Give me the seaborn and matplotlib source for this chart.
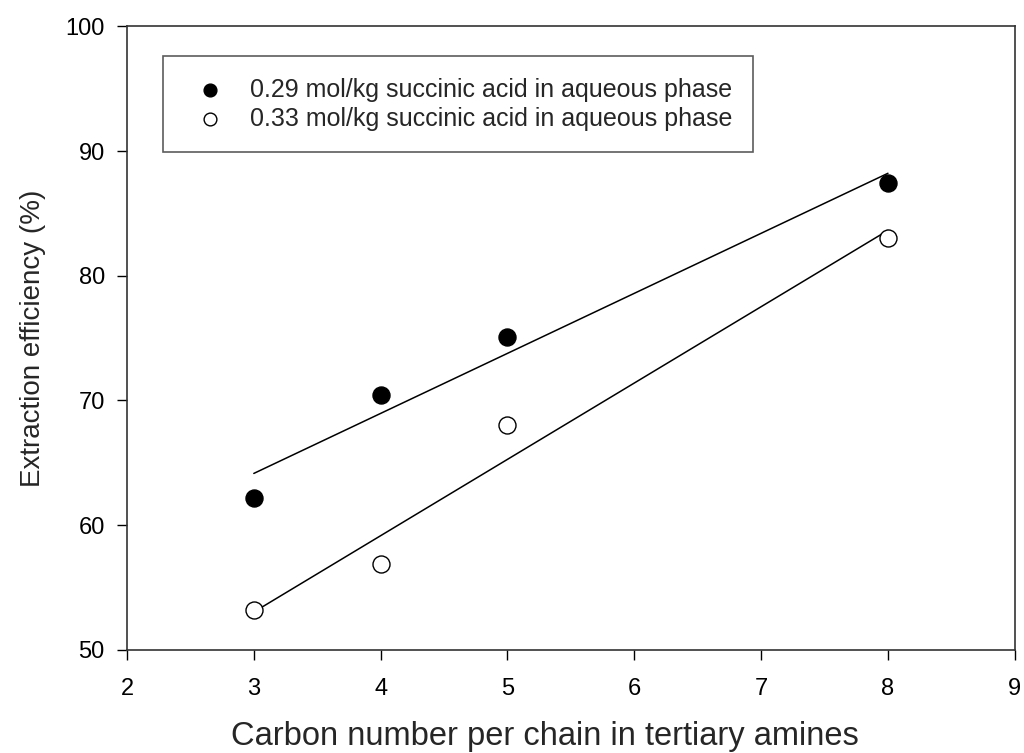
import matplotlib
matplotlib.use("Agg")
import matplotlib.pyplot as plt
import seaborn as sns
import numpy as np
import pandas as pd

carbon = [3, 4, 5, 8]
eff_029 = [62.2, 70.4, 75.1, 87.4]
eff_033 = [53.2, 56.9, 68.0, 83.0]
labels = ["0.29 mol/kg succinic acid in aqueous phase",
          "0.33 mol/kg succinic acid in aqueous phase"]

sns.set_style("white")
plt.rcParams['font.family'] = ['Liberation Sans', 'DejaVu Sans']

fig = plt.figure(figsize=(10.24, 7.53), dpi=100)
ax = fig.add_axes([0.124, 0.137, 0.867, 0.828])

df1 = pd.DataFrame({"x": carbon, "y": eff_029})
df2 = pd.DataFrame({"x": carbon, "y": eff_033})

sns.regplot(data=df1, x="x", y="y", ax=ax, ci=None, scatter=False,
            line_kws=dict(color="black", lw=1.1))
sns.regplot(data=df2, x="x", y="y", ax=ax, ci=None, scatter=False,
            line_kws=dict(color="black", lw=1.1))
sns.scatterplot(data=df1, x="x", y="y", ax=ax, s=150, color="black",
                edgecolor="black", linewidth=1, label=labels[0], zorder=3)
sns.scatterplot(data=df2, x="x", y="y", ax=ax, s=150, facecolor="white",
                edgecolor="black", linewidth=1, label=labels[1], zorder=3)

ax.set_xlim(2, 9)
ax.set_ylim(50, 100)
ax.set_xticks(range(2, 10))
ax.set_yticks(range(50, 101, 10))
ax.tick_params(axis="both", direction="out", length=7, width=1, labelsize=17,
               bottom=True, left=True, top=False, right=False, pad=9, colors="black")
ax.tick_params(axis="x", pad=13)
for sp in ax.spines.values():
    sp.set_color("#333333")
    sp.set_linewidth(1.2)

ax.set_xlabel("Carbon number per chain in tertiary amines", fontsize=23.5)
ax.xaxis.set_label_coords(0.471, -0.139, transform=ax.transAxes)
ax.xaxis.label.set_va("center")
ax.set_ylabel("Extraction efficiency (%)", fontsize=20, labelpad=14)

leg = ax.legend(loc="upper left", bbox_to_anchor=(0.041, 0.952), fontsize=18,
                frameon=True, fancybox=False, edgecolor="#333333",
                borderpad=0.85, handletextpad=0.6, labelspacing=0.2,
                borderaxespad=0, markerscale=0.75)
leg.get_frame().set_linewidth(1.2)

fig.savefig("out.png", dpi=100)
